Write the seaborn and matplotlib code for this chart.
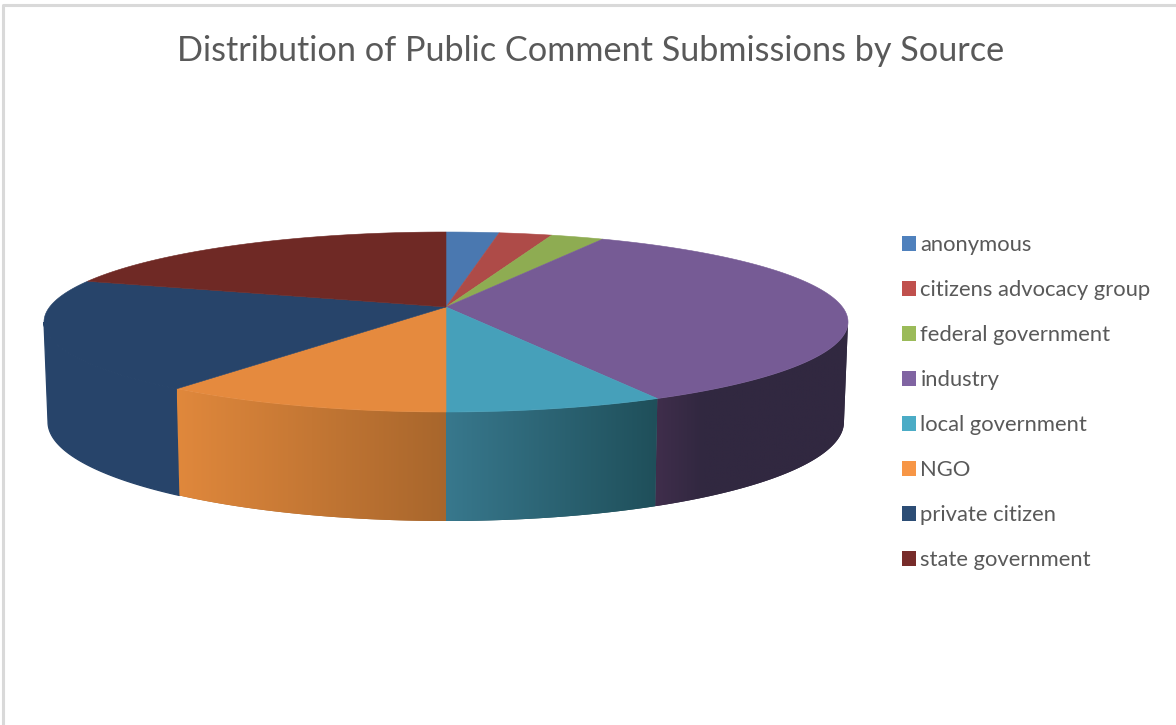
import numpy as np
import pandas as pd
import seaborn as sns
import matplotlib
matplotlib.use("Agg")
import matplotlib.pyplot as plt
from matplotlib.patches import Polygon, Patch
from matplotlib.lines import Line2D

# Share of submissions per source, in percent
sources = ["anonymous", "citizens advocacy group", "federal government", "industry",
           "local government", "NGO", "private citizen", "state government"]
shares = [2.5, 2.5, 2.5, 35.0, 7.5, 10.0, 20.0, 20.0]
title_text = "Distribution of Public Comment Submissions by Source"

# Colours: legend swatch, top face, and side-face shading (left and right of each wall)
legend_hex = ["#4F81BD", "#C0504D", "#9BBB59", "#8064A2", "#4BACC6", "#F79646", "#2C4D75", "#772C2A"]
top_hex = ["#4A78B0", "#AE4B48", "#8EAC52", "#765B95", "#46A0BA", "#E58A3E", "#27446A", "#6F2925"]
side_left_hex = ["#33293F", "#33293F", "#33293F", "#402E4C", "#38788D", "#E0883C", "#27446A", "#27446A"]
side_right_hex = ["#33293F", "#33293F", "#33293F", "#312840", "#1F4F5A", "#A8662C", "#27446A", "#27446A"]

sns.set_theme(style="white")
plt.rcParams["font.family"] = ["Lato", "DejaVu Sans"]

df = pd.DataFrame({"source": sources, "share": shares})
df["start"] = df["share"].cumsum().shift(fill_value=0) * 3.6
df["stop"] = df["share"].cumsum() * 3.6

W, H = 1176, 725
fig = plt.figure(figsize=(W / 100, H / 100), dpi=100)
ax = fig.add_axes([0, 0, 1, 1])

# Perspective disc: angle clockwise from twelve o'clock -> canvas pixels
TILT = 1 / 6


def rim(deg, cx, cy, sx, sy):
    t = np.radians(deg)
    u, v = np.sin(t), np.cos(t)
    w = 1 / (1 + TILT * v)
    return cx + sx * u * w, cy - sy * v * w


def top_rim(deg):
    return rim(deg, 446.0, 307.0, 396.4, 87.5)


def bottom_rim(deg):
    return rim(deg, 446.0, 405.5, 392.4, 96.25)


# Only the part of the wall between the two silhouette tangents faces the viewer
tangent = np.degrees(np.arccos(-TILT))
VISIBLE = (tangent, 360 - tangent)

for i, row in df.iterrows():
    a0, a1 = max(row.start, VISIBLE[0]), min(row.stop, VISIBLE[1])
    if a1 <= a0:
        continue
    arc = np.linspace(a0, a1, 160)
    tx, ty = top_rim(arc)
    bx, by = bottom_rim(arc)
    xy = np.column_stack([np.r_[tx, bx[::-1]], np.r_[ty, by[::-1]]])
    flat = side_left_hex[i] == side_right_hex[i]
    wall = Polygon(xy, closed=True, facecolor=side_right_hex[i],
                   edgecolor=side_right_hex[i] if flat else "none", lw=0.9 if flat else 0)
    ax.add_patch(wall)
    if flat:
        continue

    # Horizontal colour ramp across the wall
    x0, x1 = xy[:, 0].min(), xy[:, 0].max()
    y0, y1 = xy[:, 1].min(), xy[:, 1].max()
    left = np.array(matplotlib.colors.to_rgb(side_left_hex[i]))
    right = np.array(matplotlib.colors.to_rgb(side_right_hex[i]))
    if row.source == "industry":
        f = np.clip(np.linspace(0, 1, 256) / 0.25, 0, 1)
    else:
        f = np.linspace(0, 1, 256)
    ramp = (left[None, :] * (1 - f[:, None]) + right[None, :] * f[:, None])[None, :, :]
    im = ax.imshow(ramp, extent=(x0, x1, y1, y0), aspect="auto", interpolation="bilinear", zorder=2)
    im.set_clip_path(wall)

for i, row in df.iterrows():
    arc = np.linspace(row.start, row.stop, 200)
    tx, ty = top_rim(arc)
    xy = np.column_stack([np.r_[446.0, tx], np.r_[307.0, ty]])
    ax.add_patch(Polygon(xy, closed=True, facecolor=top_hex[i], edgecolor=top_hex[i], lw=0.4, zorder=3))

# Thin frame along the left and top edges
ax.add_line(Line2D([3, 3, W], [H, 5, 5], color="#D9D9D9", lw=2.2, zorder=1))

ax.text(590.5, 51, title_text, ha="center", va="center", fontsize=24.63, color="#595959", zorder=5)

palette = sns.color_palette(legend_hex)
handles = [Patch(facecolor=c, edgecolor="none", label=s) for c, s in zip(palette, sources)]
ax.legend(handles=handles, loc="upper left", bbox_to_anchor=(902, 235), bbox_transform=ax.transData,
          frameon=False, fontsize=15.8, labelcolor="#595959", handlelength=0.64, handleheight=0.64,
          handletextpad=0.2, labelspacing=1.14, borderpad=0, borderaxespad=0)

ax.set_xlim(0, W)
ax.set_ylim(H, 0)
ax.axis("off")
fig.savefig("out.png", dpi=100, facecolor="white")
